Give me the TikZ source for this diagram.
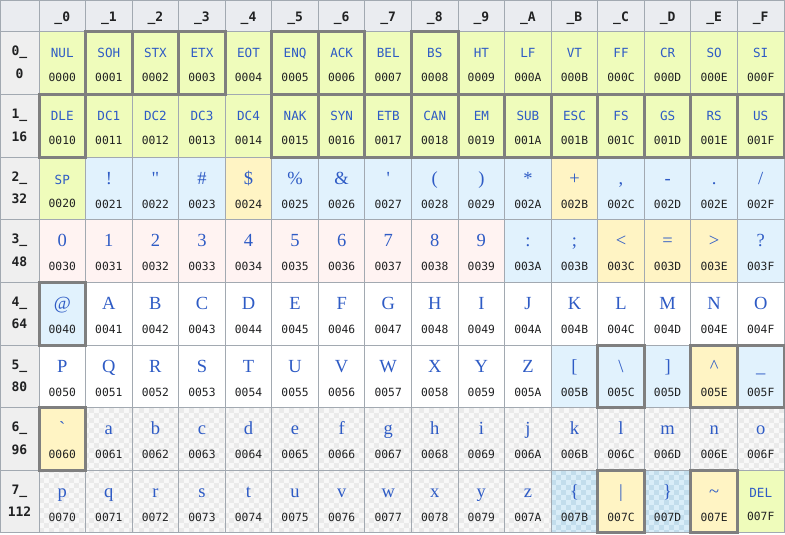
\documentclass[tikz,border=0pt]{standalone}
\usepackage{fontspec}
\newfontfamily\monof{DejaVu Sans Mono}
\newfontfamily\serf{Liberation Serif}
\definecolor{ctrlc}{HTML}{EFFCBB}
\definecolor{bluec}{HTML}{E1F2FD}
\definecolor{yelc}{HTML}{FFF4C4}
\definecolor{pinkc}{HTML}{FFF3F2}
\definecolor{hdrc}{HTML}{EAECF0}
\definecolor{rowc}{HTML}{EFEFEF}
\definecolor{chkbase}{HTML}{F8F8F8}
\definecolor{chksq}{HTML}{EAEAEA}
\definecolor{bchkbase}{HTML}{D9EDF8}
\definecolor{bchksq}{HTML}{C2DDEC}
\definecolor{gridc}{HTML}{A2A9B1}
\definecolor{thickc}{HTML}{7F7F7F}
\definecolor{linkc}{HTML}{2E5BC5}
\definecolor{codec}{HTML}{202122}
\newcommand\bgc[3]{\fill[#3] ({39+46.5625*(#2)},{32+62.6*(#1)}) rectangle ({39+46.5625*(#2+1)},{32+62.6*(#1+1)});}
\newcommand\bluechkcell[1]{%
  \bgc{7}{#1}{bchkbase}
  \begin{scope}
  \clip ({39+46.5625*(#1)},{32+62.6*7}) rectangle ({39+46.5625*(#1+1)},{32+62.6*8});
  \foreach \i in {0,...,10} {\pgfmathtruncatemacro\ph{mod(\i,2)}
    \foreach \j in {0,...,6} {\fill[bchksq] ({39+46.5625*(#1)+5*\i},{32+62.6*7+10*\j+5*\ph}) rectangle +(5,5);}}
  \end{scope}}
\newcommand\ctl[4]{%
  \node[nm] (n#1#3) at ({39+46.5625*(#2+0.5)},{32+62.6*#1+26}) {#4};
  \node[cd] (c#1#3) at ({39+46.5625*(#2+0.5)},{32+62.6*#1+49.5}) {00#1#3};}
\newcommand\ctlp[4]{%
  \node[nm] (n#1#3) at ({39+46.5625*(#2+0.5)},{32+62.6*#1+27}) {#4};
  \node[cd] (c#1#3) at ({39+46.5625*(#2+0.5)},{32+62.6*#1+50.5}) {00#1#3};}
\newcommand\prt[4]{%
  \node[ch] (n#1#3) at ({39+46.5625*(#2+0.5)},{32+62.6*#1+27}) {#4};
  \node[cd] (c#1#3) at ({39+46.5625*(#2+0.5)},{32+62.6*#1+51}) {00#1#3};}
\begin{document}
\begin{tikzpicture}[x=1pt,y=-1pt,
  nm/.style={font=\monof\fontsize{12.6}{12.6}\selectfont, text=linkc, inner sep=0pt, anchor=base},
  cd/.style={font=\monof\fontsize{11.3}{11.3}\selectfont, text=codec, inner sep=0pt, anchor=base},
  ch/.style={font=\serf\fontsize{18.5}{18.5}\selectfont, text=linkc, inner sep=0pt, anchor=base},
  hd/.style={font=\monof\bfseries\fontsize{13}{13}\selectfont, text=codec, inner sep=0pt, anchor=base},
  gridline/.style={draw=gridc, line width=1pt},
  thickbox/.style={draw=thickc, line width=3pt}]
\useasboundingbox (0,0) rectangle (785,535);
\fill[white] (0,0) rectangle (785,535);
% header backgrounds
\fill[hdrc] (0.5,0.5) rectangle (784,32);
\fill[rowc] (0.5,32) rectangle (39,532.8);
% rows 0-1
\fill[ctrlc] (39,32) rectangle (784,{32+62.6*2});
% row 2
\bgc{2}{0}{ctrlc}
\foreach \c in {1,2,3,5,6,7,8,9,10,12,13,14,15} {\bgc{2}{\c}{bluec}}
\bgc{2}{4}{yelc}
\bgc{2}{11}{yelc}
% row 3
\foreach \c in {0,...,9} {\bgc{3}{\c}{pinkc}}
\foreach \c in {10,11,15} {\bgc{3}{\c}{bluec}}
\foreach \c in {12,13,14} {\bgc{3}{\c}{yelc}}
% row 4
\bgc{4}{0}{bluec}
% row 5
\foreach \c in {11,12,13,15} {\bgc{5}{\c}{bluec}}
\bgc{5}{14}{yelc}
% rows 6-7 checker
\fill[chkbase] (39,{32+62.6*6}) rectangle (784,{32+62.6*8});
\begin{scope}
\clip (39,{32+62.6*6}) rectangle (784,{32+62.6*8});
\foreach \i in {0,...,149} {\pgfmathtruncatemacro\ph{mod(\i,2)}
  \foreach \j in {0,...,12} {\fill[chksq] ({39+5*\i},{407.6+10*\j+5*\ph}) rectangle +(5,5);}}
\end{scope}
\bgc{6}{0}{yelc}
\bgc{7}{12}{yelc}
\bgc{7}{14}{yelc}
\bgc{7}{15}{ctrlc}
\bluechkcell{11}
\bluechkcell{13}
% grid
\foreach \k in {0,...,16} {\draw[gridline] ({39+46.5625*\k},0.5) -- ({39+46.5625*\k},532.8);}
\draw[gridline] (0.5,0.5) -- (0.5,532.8);
\draw[gridline] (0.5,0.5) -- (784,0.5);
\foreach \r in {0,...,8} {\draw[gridline] (0.5,{32+62.6*\r}) -- (784,{32+62.6*\r});}
% thick boxes
\foreach \r/\c in {0/1,0/2,0/3,0/5,0/6,0/8,1/0,1/5,1/6,1/7,1/8,1/9,1/10,1/11,1/12,1/13,1/14,1/15,4/0,5/12,5/14,5/15,6/0,7/12,7/14}
  {\draw[thickbox] ({39+46.5625*\c},{32+62.6*\r}) rectangle ({39+46.5625*(\c+1)},{32+62.6*(\r+1)});}
% column headers
\foreach \h [count=\k from 0] in {0,1,2,3,4,5,6,7,8,9,A,B,C,D,E,F}
  {\node[hd] (h\h) at ({39+46.5625*(\k+0.5)},22) {\_\h};}
% row headers
\foreach \r/\d in {0/0,1/16,2/32,3/48,4/64,5/80,6/96,7/112}
  {\node[hd] (ra\r) at (19.5,{32+62.6*\r+24}) {\r\_};
   \node[hd] (rb\r) at (19.5,{32+62.6*\r+46.5}) {\d};}
% row 0 and 1
\foreach \nm/\h [count=\k from 0] in {NUL/0,SOH/1,STX/2,ETX/3,EOT/4,ENQ/5,ACK/6,BEL/7,BS/8,HT/9,LF/A,VT/B,FF/C,CR/D,SO/E,SI/F}
  {\ctl{0}{\k}{\h}{\nm}}
\foreach \nm/\h [count=\k from 0] in {DLE/0,DC1/1,DC2/2,DC3/3,DC4/4,NAK/5,SYN/6,ETB/7,CAN/8,EM/9,SUB/A,ESC/B,FS/C,GS/D,RS/E,US/F}
  {\ctl{1}{\k}{\h}{\nm}}
% row 2
\ctlp{2}{0}{0}{SP}
\prt{2}{1}{1}{!}
\prt{2}{2}{2}{"}
\prt{2}{3}{3}{\#}
\prt{2}{4}{4}{\$}
\prt{2}{5}{5}{\%}
\prt{2}{6}{6}{\&}
\prt{2}{7}{7}{'}
\prt{2}{8}{8}{(}
\prt{2}{9}{9}{)}
\prt{2}{10}{A}{*}
\prt{2}{11}{B}{+}
\prt{2}{12}{C}{,}
\prt{2}{13}{D}{-}
\prt{2}{14}{E}{.}
\prt{2}{15}{F}{/}
% row 3
\foreach \k in {0,...,9} {\prt{3}{\k}{\k}{\k}}
\prt{3}{10}{A}{:}
\prt{3}{11}{B}{;}
\prt{3}{12}{C}{<}
\prt{3}{13}{D}{=}
\prt{3}{14}{E}{>}
\prt{3}{15}{F}{?}
% row 4
\prt{4}{0}{0}{@}
\foreach \ch/\h [count=\k from 1] in {A/1,B/2,C/3,D/4,E/5,F/6,G/7,H/8,I/9,J/A,K/B,L/C,M/D,N/E,O/F}
  {\prt{4}{\k}{\h}{\ch}}
% row 5
\foreach \ch/\h [count=\k from 0] in {P/0,Q/1,R/2,S/3,T/4,U/5,V/6,W/7,X/8,Y/9,Z/A}
  {\prt{5}{\k}{\h}{\ch}}
\prt{5}{11}{B}{[}
\prt{5}{12}{C}{\symbol{92}}
\prt{5}{13}{D}{]}
\prt{5}{14}{E}{\symbol{94}}
\prt{5}{15}{F}{\symbol{95}}
% row 6
\prt{6}{0}{0}{`}
\foreach \ch/\h [count=\k from 1] in {a/1,b/2,c/3,d/4,e/5,f/6,g/7,h/8,i/9,j/A,k/B,l/C,m/D,n/E,o/F}
  {\prt{6}{\k}{\h}{\ch}}
% row 7
\foreach \ch/\h [count=\k from 0] in {p/0,q/1,r/2,s/3,t/4,u/5,v/6,w/7,x/8,y/9,z/A}
  {\prt{7}{\k}{\h}{\ch}}
\prt{7}{11}{B}{\symbol{123}}
\prt{7}{12}{C}{|}
\prt{7}{13}{D}{\symbol{125}}
\prt{7}{14}{E}{\symbol{126}}
\ctlp{7}{15}{F}{DEL}
\end{tikzpicture}
\end{document}
